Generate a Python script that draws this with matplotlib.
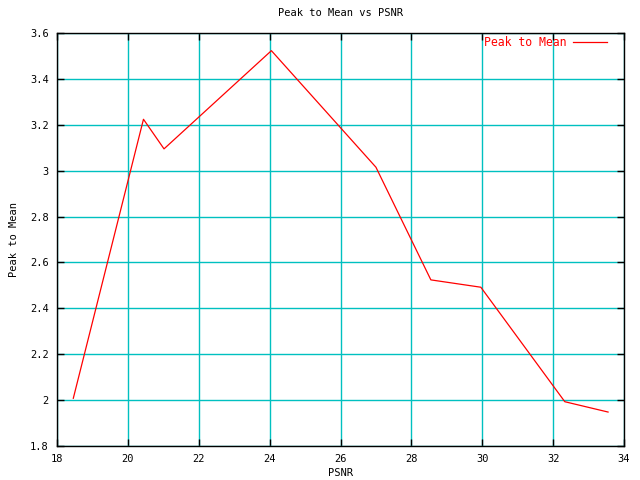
import matplotlib
matplotlib.use('Agg')
import matplotlib.pyplot as plt
from matplotlib.ticker import FuncFormatter

# data
psnr = [18.46, 20.44, 21.02, 24.05, 27.0, 28.55, 29.96, 32.33, 33.55]
peak_to_mean = [2.008, 3.224, 3.095, 3.523, 3.015, 2.524, 2.492, 1.993, 1.948]

x_ticks = [18, 20, 22, 24, 26, 28, 30, 32, 34]
y_ticks = [1.8, 2.0, 2.2, 2.4, 2.6, 2.8, 3.0, 3.2, 3.4, 3.6]

plt.rcParams['font.family'] = 'DejaVu Sans Mono'
plt.rcParams['font.size'] = 7.5

fig = plt.figure(figsize=(6.4, 4.8), dpi=100)
ax = fig.add_axes([57/640, 1 - 446/480, (624 - 57)/640, (446 - 33)/480])

ax.plot(psnr, peak_to_mean, color='red', linewidth=0.9, label='Peak to Mean')

ax.set_xlim(18, 34)
ax.set_ylim(1.8, 3.6)
ax.set_xticks(x_ticks)
ax.set_yticks(y_ticks)
ax.yaxis.set_major_formatter(FuncFormatter(lambda v, p: '%g' % round(v, 1)))
ax.grid(True, color='#00C0C0', linewidth=1.0)
ax.set_axisbelow(True)
ax.tick_params(direction='in', length=5, width=1, top=True, right=True, pad=6)
for s in ax.spines.values():
    s.set_linewidth(1)

ax.set_title('Peak to Mean vs PSNR', fontsize=7.5, pad=12)
ax.set_xlabel('PSNR', labelpad=3)
ax.set_ylabel('Peak to Mean', labelpad=8)

ax.legend(loc='upper right', bbox_to_anchor=(0.970, 0.992), frameon=False,
          markerfirst=False, labelcolor='red', handlelength=2.95,
          handletextpad=0.6, borderaxespad=0, borderpad=0, fontsize=8.3)

plt.savefig('out.png', dpi=100)
